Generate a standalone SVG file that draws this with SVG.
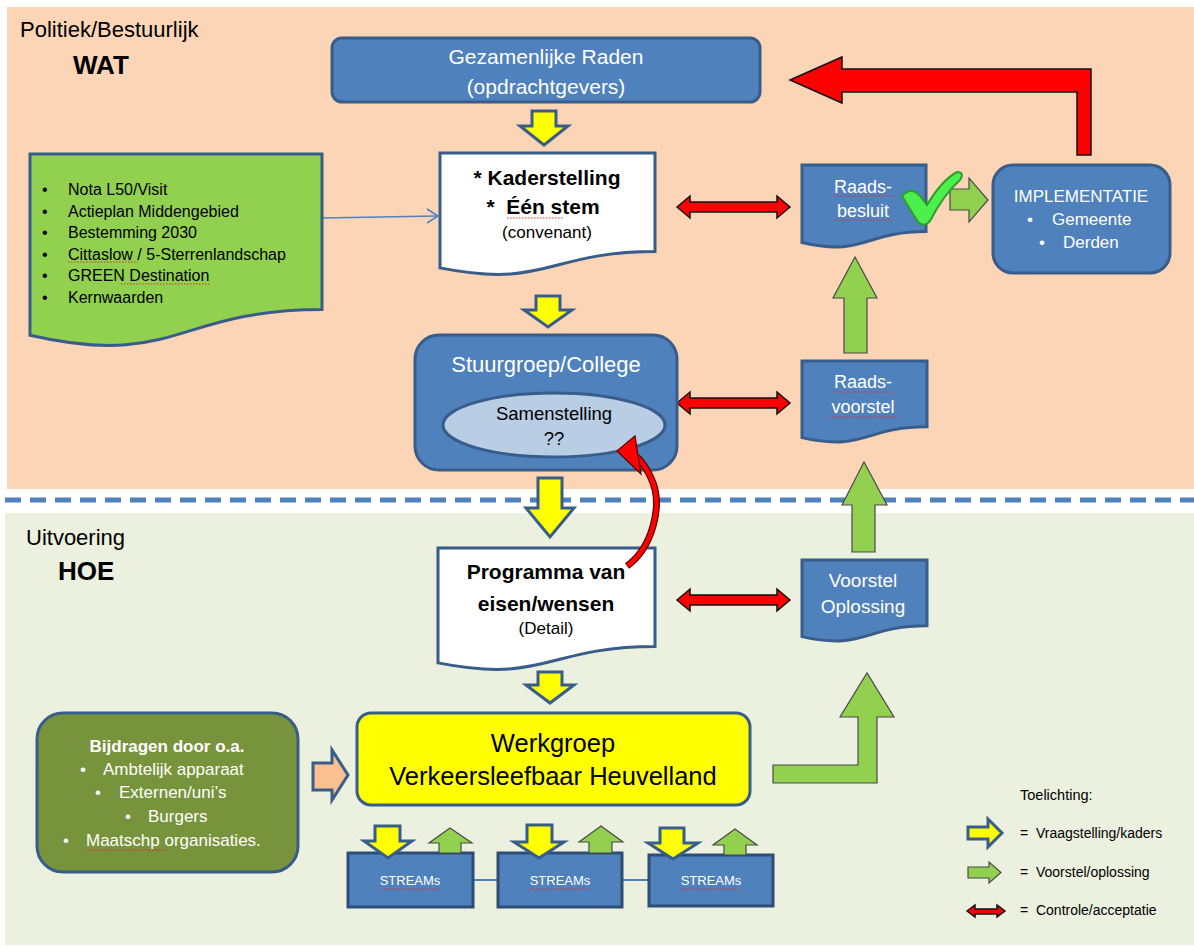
<svg xmlns="http://www.w3.org/2000/svg" width="1194" height="947" viewBox="0 0 1194 947">
<style>
text{font-family:"Liberation Sans",Arial,sans-serif;white-space:pre;}
.w{fill:#fff}
.k{fill:#000}
.b{font-weight:bold}
.m{text-anchor:middle}
.blue{fill:#4F81BD;stroke:#385D8A;stroke-width:3}
.doc{fill:#fff;stroke:#385D8A;stroke-width:3}
.ya{fill:#FFFF00;stroke:#385D8A;stroke-width:3;stroke-linejoin:miter}
.ga{fill:#92D050;stroke:#4A4A4A;stroke-width:1.2}
.ra{fill:#FF0000;stroke:#111;stroke-width:1.5}
.sq{fill:none;stroke:#E03030;stroke-width:1;stroke-dasharray:1.5 1.5}
</style>
<!-- backgrounds -->
<rect x="7" y="7" width="1187" height="482" fill="#FBD5B5"/>
<rect x="5" y="513" width="1189" height="432" fill="#EBF1DE"/>
<line x1="5" y1="500" x2="1194" y2="500" stroke="#4F81BD" stroke-width="5" stroke-dasharray="16 9"/>

<text x="20" y="37" font-size="22" class="k">Politiek/Bestuurlijk</text>
<text x="73" y="74" font-size="26" class="k b">WAT</text>
<text x="26" y="545" font-size="22" class="k">Uitvoering</text>
<text x="58" y="580" font-size="26" class="k b">HOE</text>

<!-- connectors -->
<g id="connectors">
  <polygon class="ra" points="790,80 842,57 842,69 1091,69 1091,155 1077,155 1077,92 842,92 842,103"/>
  <polygon class="ya" points="532,111 556,111 556,126 568,126 544,145 520,126 532,126"/>
  <polygon class="ya" points="536,296 560,296 560,310 572,310 548,327 524,310 536,310"/>
  <polygon class="ya" points="538,478 562,478 562,508 574,508 550,537 526,508 538,508"/>
  <polygon class="ya" points="538,672 562,672 562,685 574,685 550,703 526,685 538,685"/>
  <polygon class="ga" points="844,353 867,353 867,298 877,298 855,257 833,298 844,298"/>
  <polygon class="ga" points="852,552 875,552 875,505 887,505 864,462 842,505 852,505"/>
  <polygon class="ga" points="950,189 969,189 969,178 988,200 969,222 969,210 950,210"/>
  <polygon class="ga" points="773,765 858,765 858,717 840,717 867,673 894,717 877,717 877,783 773,783"/>
  <polygon points="313,763 332,763 332,750 348,775 332,800 332,790 313,790" fill="#FAC090" stroke="#385D8A" stroke-width="3"/>
  <polygon class="ra" points="677,207 690,196 690,202 777,202 777,196 790,207 777,218 777,212 690,212 690,218"/>
  <polygon class="ra" points="677,403 690,392 690,398 777,398 777,392 790,403 777,414 777,408 690,408 690,414"/>
  <polygon class="ra" points="677,600 690,589 690,595 777,595 777,589 790,600 777,611 777,605 690,605 690,611"/>
  <g fill="none" stroke="#4F81BD" stroke-width="1.5">
    <line x1="322" y1="218" x2="437" y2="216"/>
    <polyline points="427,209 438,216 427,223"/>
  </g>
  <line x1="473" y1="880" x2="498" y2="880" stroke="#4F81BD" stroke-width="2"/>
  <line x1="622" y1="880" x2="649" y2="880" stroke="#4F81BD" stroke-width="2"/>
</g>

<!-- nodes -->
<g id="gezamenlijke-raden">
  <rect class="blue" x="332" y="38" width="428" height="64" rx="10"/>
  <text x="546" y="64" font-size="21" class="w m">Gezamenlijke Raden</text>
  <text x="546" y="94" font-size="21" class="w m">(opdrachtgevers)</text>
</g>

<g id="beleidsdocumenten">
  <path d="M30,154 H322 V309.6 C176,309.6 176,368.8 30,335.2 Z" fill="#92D050" stroke="#385D8A" stroke-width="3"/>
  <g font-size="16" class="k">
    <text x="42" y="195">•</text><text x="68" y="195">Nota L50/Visit</text>
    <text x="42" y="216.5">•</text><text x="68" y="216.5">Actieplan Middengebied</text>
    <text x="42" y="238">•</text><text x="68" y="238">Bestemming 2030</text>
    <text x="42" y="259.5">•</text><text x="68" y="259.5">Cittaslow / 5-Sterrenlandschap</text>
    <text x="42" y="281">•</text><text x="68" y="281">GREEN Destination</text>
    <text x="42" y="302.5">•</text><text x="68" y="302.5">Kernwaarden</text>
  </g>
  <path class="sq" d="M68,262 H138"/>
  <path class="sq" d="M121,284 H211"/>
</g>

<g id="kaderstelling">
  <path class="doc" d="M440,153 H655 V251.6 C547.5,251.6 547.5,289.2 440,267.9 Z"/>
  <text x="547" y="185" font-size="21" class="k b m">* Kaderstelling</text>
  <text x="543" y="214" font-size="21" class="k b m">*  Één stem</text>
  <text x="547" y="238" font-size="17" class="k m">(convenant)</text>
  <path class="sq" d="M507,218 H564"/>
</g>

<g id="raadsbesluit">
  <path class="blue" d="M802,165 H926 V231.6 C864,231.6 864,256.9 802,242.5 Z"/>
  <text x="863" y="193" font-size="18" class="w m">Raads-</text>
  <text x="863" y="217" font-size="18" class="w m">besluit</text>
  <path class="sq" d="M834,196 H893 M834,220 H892"/>
  <path d="M902,196 Q911,186 920,196 L927,205 Q942,180 957,172 Q965,172 960,180 Q944,194 930,221 Q924,228 918,222 Z" fill="#4CF04C" stroke="#2E9E2E" stroke-width="2"/>
</g>

<g id="implementatie">
  <rect class="blue" x="993" y="165" width="177" height="108" rx="20"/>
  <text x="1081" y="202" font-size="17" class="w m">IMPLEMENTATIE</text>
  <text x="1027" y="225" font-size="17" class="w">•</text>
  <text x="1052" y="225" font-size="17" class="w">Gemeente</text>
  <text x="1039" y="248" font-size="17" class="w">•</text>
  <text x="1063" y="248" font-size="17" class="w">Derden</text>
</g>

<g id="stuurgroep">
  <rect class="blue" x="415" y="335" width="262" height="135" rx="24"/>
  <text x="546" y="372" font-size="22" class="w m">Stuurgroep/College</text>
  <ellipse cx="554" cy="425" rx="111" ry="32" fill="#B9CDE5" stroke="#385D8A" stroke-width="3"/>
  <text x="554" y="420" font-size="18.5" class="k m">Samenstelling</text>
  <text x="554" y="445" font-size="18.5" class="k m">??</text>
</g>

<g id="raadsvoorstel">
  <path class="blue" d="M802,361 H927 V426.8 C864.5,426.8 864.5,451.8 802,437.6 Z"/>
  <text x="863" y="388" font-size="18" class="w m">Raads-</text>
  <text x="863" y="413" font-size="18" class="w m">voorstel</text>
  <path class="sq" d="M834,392 H893 M829,417 H898"/>
</g>

<g id="programma">
  <path class="doc" d="M438,548 H655 V646.6 C546.5,646.6 546.5,684.2 438,662.9 Z"/>
  <text x="546" y="579" font-size="21" class="k b m">Programma van</text>
  <text x="546" y="611" font-size="21" class="k b m">eisen/wensen</text>
  <text x="546" y="634" font-size="17" class="k m">(Detail)</text>
</g>

<g id="terugkoppeling">
  <path d="M627,566 C652,548 664,505 651,478 C647,469 642,462 637,457" fill="none" stroke="#5a0000" stroke-width="7"/>
  <path d="M627,566 C652,548 664,505 651,478 C647,469 642,462 637,457" fill="none" stroke="#FF0000" stroke-width="4.5"/>
  <polygon points="617,451 635,436 641,474" fill="#FF0000" stroke="#5a0000" stroke-width="1.2"/>
</g>

<g id="voorstel-oplossing">
  <path class="blue" d="M802,560 H927 V625.8 C864.5,625.8 864.5,650.8 802,636.6 Z"/>
  <text x="863" y="587" font-size="19" class="w m">Voorstel</text>
  <text x="863" y="613" font-size="19" class="w m">Oplossing</text>
</g>

<g id="bijdragen">
  <rect x="37" y="713" width="261" height="159" rx="26" fill="#77933C" stroke="#385D8A" stroke-width="3"/>
  <text x="167" y="752" font-size="17" class="w b m">Bijdragen door o.a.</text>
  <g font-size="17" class="w">
    <text x="80" y="775">•</text><text x="103" y="775">Ambtelijk apparaat</text>
    <text x="95" y="798">•</text><text x="119" y="798">Externen/uni’s</text>
    <text x="125" y="822">•</text><text x="148" y="822">Burgers</text>
    <text x="63" y="846">•</text><text x="86" y="846">Maatschp organisaties.</text>
  </g>
  <path class="sq" d="M86,850 H168"/>
</g>

<g id="werkgroep">
  <rect x="357" y="713" width="393" height="92" rx="14" fill="#FFFF00" stroke="#385D8A" stroke-width="3"/>
  <text x="553" y="752" font-size="25.5" class="k m">Werkgroep</text>
  <text x="553" y="785" font-size="25.5" class="k m">Verkeersleefbaar Heuvelland</text>
</g>

<g id="stream-1">
  <rect x="348" y="853" width="125" height="54" fill="#4F81BD" stroke="#2C4D75" stroke-width="3"/>
  <text x="410" y="885" font-size="13" class="w m">STREAMs</text>
  <path class="sq" d="M381,889 H441"/>
  <polygon class="ya" points="375,826 400,826 400,841 412,841 388,858 364,841 375,841"/>
  <polygon class="ga" points="439,853 461,853 461,843 472,843 450,828 429,843 439,843"/>
</g>
<g id="stream-2">
  <rect x="498" y="853" width="124" height="54" fill="#4F81BD" stroke="#2C4D75" stroke-width="3"/>
  <text x="560" y="885" font-size="13" class="w m">STREAMs</text>
  <path class="sq" d="M530,889 H590"/>
  <polygon class="ya" points="527,825 552,825 552,842 564,842 539,858 514,842 527,842"/>
  <polygon class="ga" points="589,853 612,853 612,842 623,842 601,826 579,842 589,842"/>
</g>
<g id="stream-3">
  <rect x="649" y="855" width="124" height="51" fill="#4F81BD" stroke="#2C4D75" stroke-width="3"/>
  <text x="711" y="885" font-size="13" class="w m">STREAMs</text>
  <path class="sq" d="M681,889 H741"/>
  <polygon class="ya" points="660,828 684,828 684,843 698,843 673,859 648,843 660,843"/>
  <polygon class="ga" points="724,855 746,855 746,845 757,845 735,829 713,845 724,845"/>
</g>

<g id="toelichting">
  <text x="1020" y="800" font-size="14.5" class="k">Toelichting:</text>
  <polygon class="ya" points="968,827 988,827 988,819 1002,833 988,847 988,839 968,839"/>
  <text x="1020" y="838" font-size="14" class="k">=  Vraagstelling/kaders</text>
  <polygon class="ga" points="968,867 989,867 989,862 1001,872.5 989,883 989,878 968,878"/>
  <text x="1020" y="877" font-size="14" class="k">=  Voorstel/oplossing</text>
  <polygon class="ra" points="967,911 975,905 975,909 997,909 997,905 1005,911 997,917 997,914 975,914 975,917"/>
  <text x="1020" y="915" font-size="14" class="k">=  Controle/acceptatie</text>
</g>
</svg>
